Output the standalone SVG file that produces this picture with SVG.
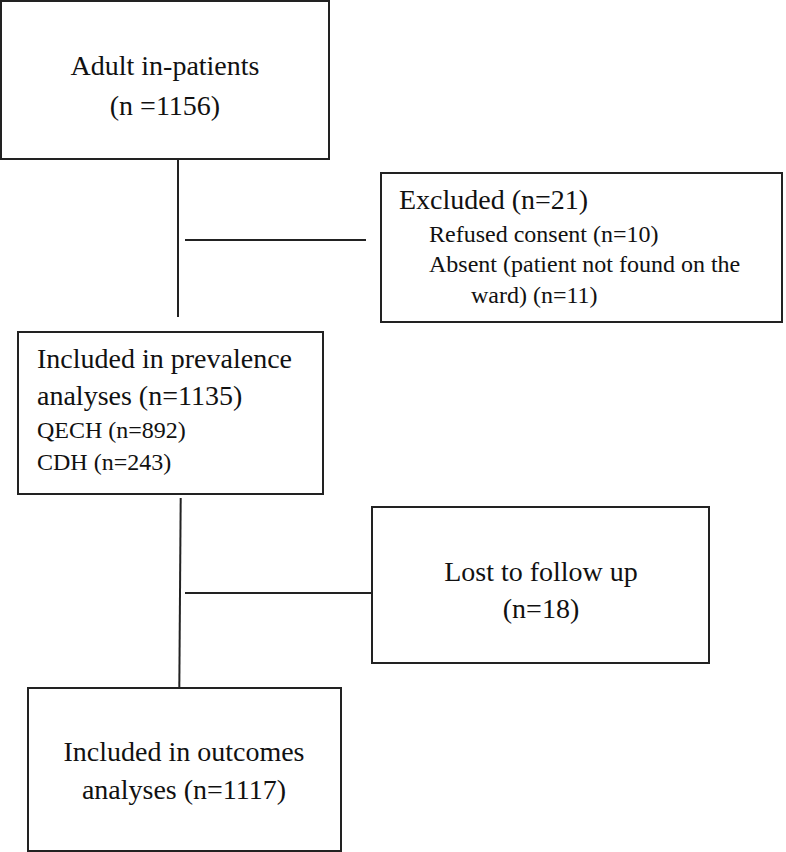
<svg xmlns="http://www.w3.org/2000/svg" width="786" height="852" viewBox="0 0 786 852">
<style>
.box{fill:#fff;stroke:#222;stroke-width:2}
.ln{stroke:#222;stroke-width:2;fill:none}
text{font-family:"Liberation Serif","Times New Roman",serif;fill:#111}
.lg{font-size:28px}
.sm{font-size:24px}
.c{text-anchor:middle}
</style>
<rect width="786" height="852" fill="#fff"/>
<g id="connectors">
<line class="ln" x1="178" y1="159" x2="178" y2="317"/>
<line class="ln" x1="185" y1="240" x2="366" y2="240"/>
<line class="ln" x1="180.7" y1="498" x2="179.3" y2="688"/>
<line class="ln" x1="185" y1="593" x2="372" y2="593"/>
</g>
<g id="adult">
<rect class="box" x="1" y="1" width="328" height="158"/>
<text class="lg c" x="165" y="75">Adult in-patients</text>
<text class="lg c" x="165" y="115">(n =1156)</text>
</g>
<g id="excluded">
<rect class="box" x="381" y="173" width="401" height="149"/>
<text class="lg" x="399" y="209">Excluded (n=21)</text>
<text class="sm" x="429" y="242">Refused consent (n=10)</text>
<text class="sm" x="429" y="272">Absent (patient not found on the</text>
<text class="sm" x="471" y="303">ward) (n=11)</text>
</g>
<g id="prevalence">
<rect class="box" x="18" y="332" width="305" height="162"/>
<text class="lg" x="37" y="368">Included in prevalence</text>
<text class="lg" x="37" y="405">analyses (n=1135)</text>
<text class="sm" x="37" y="438">QECH (n=892)</text>
<text class="sm" x="37" y="470">CDH (n=243)</text>
</g>
<g id="lost">
<rect class="box" x="372" y="507" width="337" height="156"/>
<text class="lg c" x="541" y="581">Lost to follow up</text>
<text class="lg c" x="541" y="618">(n=18)</text>
</g>
<g id="outcomes">
<rect class="box" x="28" y="688" width="313" height="163"/>
<text class="lg c" x="184" y="761">Included in outcomes</text>
<text class="lg c" x="184" y="799">analyses (n=1117)</text>
</g>
</svg>
